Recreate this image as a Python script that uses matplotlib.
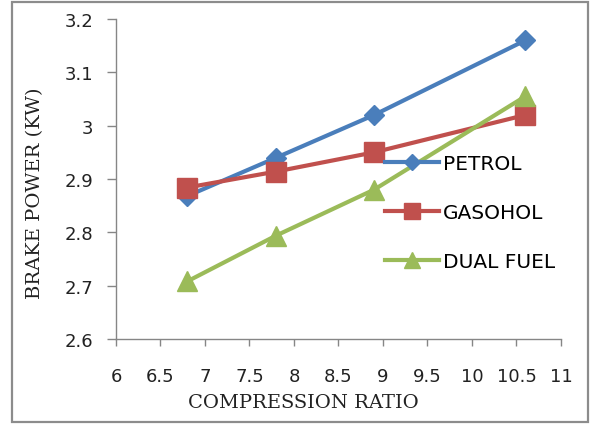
import matplotlib.pyplot as plt
from matplotlib.patches import Rectangle

ratio = [6.8, 7.8, 8.9, 10.6]
petrol = [2.868, 2.94, 3.02, 3.16]
gasohol = [2.884, 2.914, 2.95, 3.02]
dual_fuel = [2.708, 2.794, 2.88, 3.055]

fig = plt.figure(figsize=(5.9, 4.27), dpi=100)
ax = fig.add_axes([0.1966, 0.2037, 0.7542, 0.7495])

# border round the whole chart
fig.patches.append(Rectangle((0.0203, 0.0094), 0.9763, 0.9836, transform=fig.transFigure,
                             fill=False, edgecolor='#8c8c8c', linewidth=1.6))

ax.plot(ratio, petrol, color='#4a7ebb', lw=3, marker='D', ms=10, label='PETROL')
ax.plot(ratio, gasohol, color='#c0504d', lw=3, marker='s', ms=15, label='GASOHOL')
ax.plot(ratio, dual_fuel, color='#9bbb59', lw=3, marker='^', ms=14, label='DUAL FUEL')

ax.set_xlim(6, 11)
ax.set_ylim(2.6, 3.2)
ax.set_xticks([6, 6.5, 7, 7.5, 8, 8.5, 9, 9.5, 10, 10.5, 11])
ax.set_xticklabels(['6', '6.5', '7', '7.5', '8', '8.5', '9', '9.5', '10', '10.5', '11'])
ax.set_yticks([2.6, 2.7, 2.8, 2.9, 3.0, 3.1, 3.2])
ax.set_yticklabels(['2.6', '2.7', '2.8', '2.9', '3', '3.1', '3.2'])

for s in ['top', 'right']:
    ax.spines[s].set_visible(False)
for s in ['left', 'bottom']:
    ax.spines[s].set_color('#868686')
    ax.spines[s].set_linewidth(1)
ax.tick_params(colors='#868686', width=1, labelcolor='#222222', labelsize=13)
ax.tick_params(axis='x', length=5, pad=15)
ax.tick_params(axis='y', length=6.5, pad=10)

ax.set_xlabel('COMPRESSION RATIO', family='DejaVu Serif', fontsize=14, color='#222222')
ax.set_ylabel('BRAKE POWER (KW)', family='DejaVu Serif', fontsize=14, color='#222222')
ax.xaxis.set_label_coords(0.422, -0.17)
ax.yaxis.set_label_coords(-0.162, 0.459)

ax.legend(loc='center left', bbox_to_anchor=(0.604, 0.395), frameon=False, borderpad=0,
          borderaxespad=0, handlelength=2.7, handletextpad=0.2, labelspacing=1.5,
          markerscale=0.8, prop={'size': 14.5})

fig.savefig('out.png', dpi=100)
